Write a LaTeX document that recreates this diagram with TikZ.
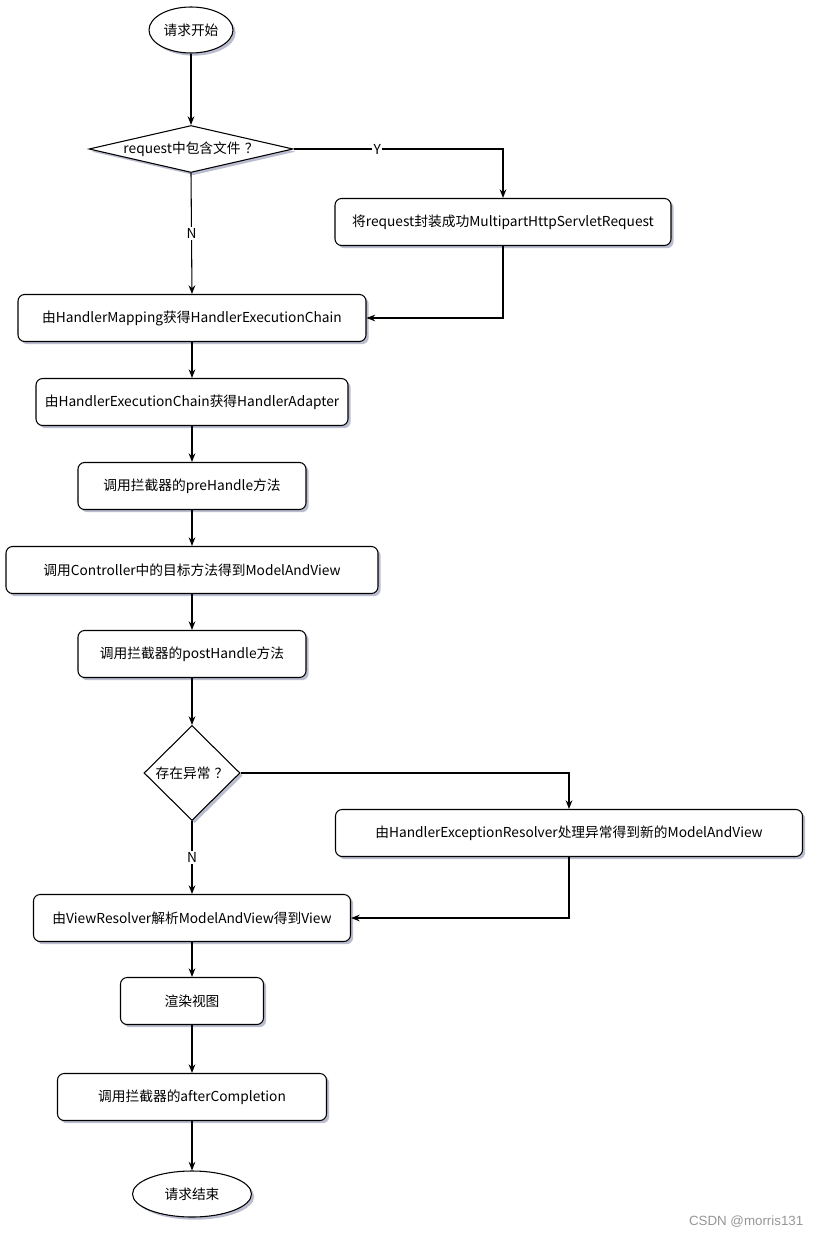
\documentclass[tikz,border=0pt]{standalone}
\usepackage{fontspec}
\setmainfont{Noto Sans CJK SC}
\newfontfamily\wmfont{Liberation Sans}
\usepackage{tikz}
\usetikzlibrary{shapes.geometric, arrows.meta, shadows}
\definecolor{FlowShadow}{RGB}{140,145,175}
\definecolor{MarkGray}{RGB}{150,150,150}

\begin{document}
\begin{tikzpicture}[x=0.75pt, y=-0.75pt,
      font=\fontsize{10.3}{12}\selectfont,
      base/.style={draw=black, fill=white, line width=0.8pt,
                   drop shadow={shadow xshift=2pt, shadow yshift=-2pt,
                                fill=FlowShadow, opacity=0.6}},
      proc/.style={base, rectangle, rounded corners=5pt, minimum height=35.25pt},
      term/.style={base, ellipse, minimum height=34.5pt, inner sep=0pt},
      decide/.style={base, diamond, inner sep=0pt},
      lbl/.style={fill=white, inner sep=1pt},
      flow/.style={-{Stealth[length=6.5pt,width=5pt]}, line width=0.8pt}
    ]
    \useasboundingbox (0,0) rectangle (823,1237);

    % Start and file check
    \node[term, minimum width=63pt] (start) at (191,30) {请求开始};
    \node[decide, minimum width=153pt, minimum height=35.25pt, shape aspect=4.3]
          (hasfile) at (191,149) {request中包含文件\hspace{0.3em}？};
    \node[proc, minimum width=252pt] (wrap) at (503,222)
          {将request封装成功MultipartHttpServletRequest};

    % Main chain
    \node[proc, minimum width=261pt] (mapping) at (192,318)
          {由HandlerMapping获得HandlerExecutionChain};
    \node[proc, minimum width=234pt] (adapter) at (192,402)
          {由HandlerExecutionChain获得HandlerAdapter};
    \node[proc, minimum width=171pt] (pre) at (192,486) {调用拦截器的preHandle方法};
    \node[proc, minimum width=279pt] (ctrl) at (192,570)
          {调用Controller中的目标方法得到ModelAndView};
    \node[proc, minimum width=171pt] (post) at (192,654) {调用拦截器的postHandle方法};

    % Exception check
    \node[decide, minimum width=72pt, minimum height=71.25pt, shape aspect=1]
          (hasexc) at (192,773) {存在异常\hspace{0.3em}？};
    \node[proc, minimum width=350.25pt] (resolve) at (569,833)
          {由HandlerExceptionResolver处理异常得到新的ModelAndView};

    % Rendering and end
    \node[proc, minimum width=237.75pt] (view) at (192,918)
          {由ViewResolver解析ModelAndView得到View};
    \node[proc, minimum width=107.25pt] (render) at (192,1001) {渲染视图};
    \node[proc, minimum width=201.75pt] (after) at (192,1097) {调用拦截器的afterCompletion};
    \node[term, minimum width=89.25pt] (stop) at (192,1194) {请求结束};

    % Connectors
    \draw[flow] (start) -- (hasfile);
    \draw[flow] (hasfile.east) -| node[lbl, pos=0.2] {Y} (wrap.north);
    \draw[flow] (hasfile.south) -- node[lbl] {N} (mapping.north);
    \draw[flow] (wrap.south) |- (mapping.east);
    \draw[flow] (mapping) -- (adapter);
    \draw[flow] (adapter) -- (pre);
    \draw[flow] (pre) -- (ctrl);
    \draw[flow] (ctrl) -- (post);
    \draw[flow] (post) -- (hasexc);
    \draw[flow] (hasexc.east) -| (resolve.north);
    \draw[flow] (hasexc.south) -- node[lbl] {N} (view.north);
    \draw[flow] (resolve.south) |- (view.east);
    \draw[flow] (view) -- (render);
    \draw[flow] (render) -- (after);
    \draw[flow] (after) -- (stop);

    % Watermark
    \node[font=\wmfont\fontsize{10}{12}\selectfont, text=MarkGray, anchor=east]
          (mark) at (808,1222) {CSDN @morris131};
  \end{tikzpicture}
\end{document}
